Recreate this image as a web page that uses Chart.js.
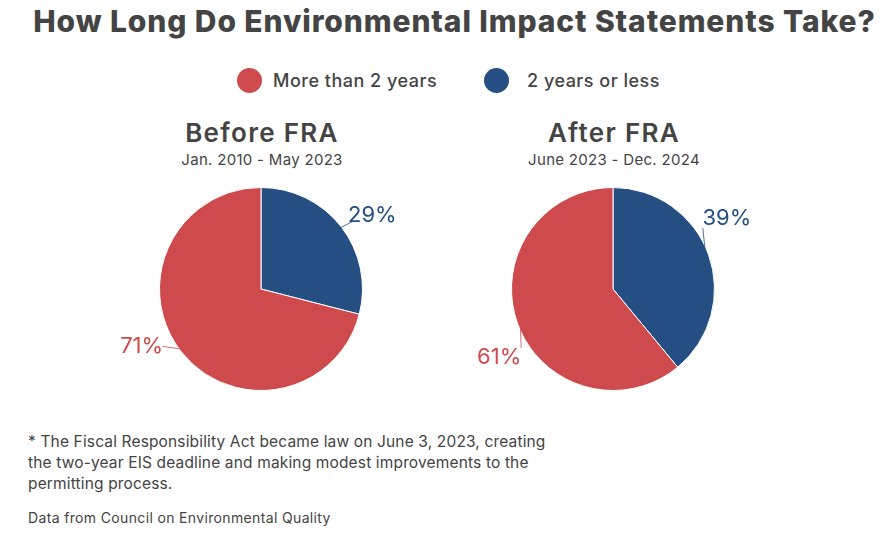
<!DOCTYPE html>
<html>
<head>
<meta charset="utf-8">
<script src="https://cdn.jsdelivr.net/npm/chart.js@4"></script>
<style>
  body { margin: 0; background: #fff; font-family: Inter, "Open Sans", sans-serif; color: #444; }
  #wrap { position: relative; width: 887px; height: 536px; overflow: hidden; }
  h1 { position: absolute; left: 0; width: 909px; top: 3px; margin: 0; text-align: center; font-size: 30px; font-weight: 800; letter-spacing: 0.9px; color: #444; white-space: nowrap; }
  .leg { position: absolute; top: 68px; font-size: 18px; font-weight: 500; line-height: 25px; letter-spacing: 0.5px; white-space: nowrap; }
  .dot { display: inline-block; width: 25px; height: 25px; border-radius: 50%; vertical-align: top; margin-right: 11px; }
  .ptitle { position: absolute; width: 260px; text-align: center; font-size: 26px; font-weight: 600; top: 117px; letter-spacing: 1.3px; }
  .psub { position: absolute; width: 260px; text-align: center; font-size: 15px; top: 150px; letter-spacing: 0.3px; }
  .note { position: absolute; left: 28px; top: 431px; font-size: 15.5px; line-height: 21px; letter-spacing: 0.15px; white-space: nowrap; }
  .src { position: absolute; left: 28px; top: 509px; font-size: 14px; letter-spacing: 0.35px; }
  canvas { position: absolute; }
</style>
</head>
<body>
<div id="wrap">
  <h1>How Long Do Environmental Impact Statements Take?</h1>
  <div class="leg" style="left:237px"><span class="dot" style="background:#CF4A4D"></span>More than 2 years</div>
  <div class="leg" style="left:484px"><span class="dot" style="background:#254F82;margin-right:18px"></span>2 years or less</div>
  <div class="ptitle" style="left:132px">Before FRA</div>
  <div class="psub" style="left:132px">Jan. 2010 - May 2023</div>
  <div class="ptitle" style="left:484px">After FRA</div>
  <div class="psub" style="left:484px">June 2023 - Dec. 2024</div>
  <div style="position:absolute;left:91px;top:159px;width:340px;height:260px"><canvas id="before"></canvas></div>
  <div style="position:absolute;left:443px;top:159px;width:340px;height:260px"><canvas id="after"></canvas></div>
  <div class="note">* The Fiscal Responsibility Act became law on June 3, 2023, creating<br>the two-year EIS deadline and making modest improvements to the<br>permitting process.</div>
  <div class="src">Data from Council on Environmental Quality</div>
</div>
<script>
var categories = ["2 years or less", "More than 2 years"];
var beforeValues = [29, 71];
var afterValues = [39, 61];
var colors = ["#254F82", "#CF4A4D"];

// draws the % labels with a short leader line
var pctLabels = {
  id: "pctLabels",
  afterDatasetsDraw: function (chart, args, opts) {
    var ctx = chart.ctx;
    var meta = chart.getDatasetMeta(0);
    var data = chart.data.datasets[0].data;
    ctx.save();
    meta.data.forEach(function (arc, i) {
      var mid = (arc.startAngle + arc.endAngle) / 2;
      var r = arc.outerRadius;
      var sh = opts.shift[i];
      var x1 = arc.x + Math.cos(mid) * (r - 3);
      var y1 = arc.y + Math.sin(mid) * (r - 3);
      var lx = arc.x + Math.cos(mid) * (r + 28) + sh[0];
      var ly = arc.y + Math.sin(mid) * (r + 28) + sh[1];
      var x2 = lx + opts.line[i][0];
      var y2 = ly + opts.line[i][1];
      ctx.strokeStyle = colors[i];
      ctx.lineWidth = 0.8;
      ctx.beginPath();
      ctx.moveTo(x1, y1);
      ctx.lineTo(x2, y2);
      ctx.stroke();
      ctx.fillStyle = colors[i];
      ctx.font = "400 22px Inter, 'Open Sans', sans-serif";
      ctx.textAlign = "center";
      ctx.textBaseline = "middle";
      ctx.fillText(data[i] + "%", lx, ly);
    });
    ctx.restore();
  }
};

function makePie(id, values, shift, line) {
  new Chart(document.getElementById(id), {
    type: "pie",
    data: {
      labels: categories,
      datasets: [{
        data: values,
        backgroundColor: colors,
        borderColor: "#ffffff",
        borderWidth: 1
      }]
    },
    options: {
      responsive: true,
      maintainAspectRatio: false,
      animation: false,
      layout: { padding: { top: 28, bottom: 28, left: 68, right: 68 } },
      plugins: {
        legend: { display: false },
        tooltip: { enabled: false },
        pctLabels: { shift: shift, line: line }
      }
    },
    plugins: [pctLabels]
  });
}

makePie("before", beforeValues, [[9, 6], [-17, -22]], [[-20, 6], [21, 0]]);
makePie("after", afterValues, [[-8, -27], [8, 25]], [[-24, 10], [22, -10]]);
</script>
</body>
</html>
